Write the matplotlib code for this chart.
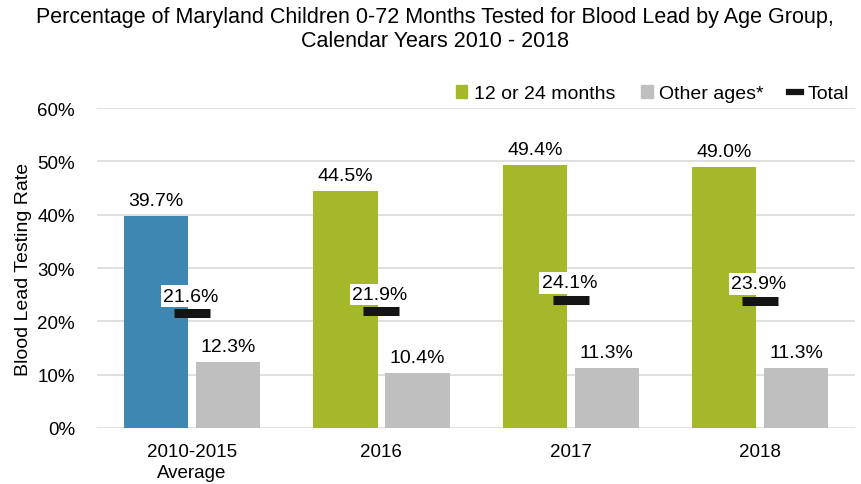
import numpy as np
import matplotlib.pyplot as plt
from matplotlib.lines import Line2D
from matplotlib.patches import Patch

plt.rcParams['font.family'] = ['Liberation Sans', 'DejaVu Sans']

# data
groups = ['2010-2015\nAverage', '2016', '2017', '2018']
target_ages = [39.7, 44.5, 49.4, 49.0]   # 12 or 24 months
other_ages = [12.3, 10.4, 11.3, 11.3]
total = [21.6, 21.9, 24.1, 23.9]

blue = '#3f87b3'
green = '#a5b82a'
gray = '#bfbfbf'

fig = plt.figure(figsize=(8.61, 4.85), dpi=100)
ax = fig.add_axes([0.113, 0.1155, 0.88, 0.6595])

x = np.arange(len(groups))
w = 0.34
off = 0.19
bar_colors = [blue] + [green] * (len(groups) - 1)

ax.bar(x - off, target_ages, w, color=bar_colors, zorder=2)
ax.bar(x + off, other_ages, w, color=gray, zorder=2)

for xi, v in zip(x, target_ages):
    ax.annotate(f'{v:.1f}%', (xi - off, v), xytext=(0, 5), textcoords='offset points',
                ha='center', va='bottom', fontsize=14)
for xi, v in zip(x, other_ages):
    ax.annotate(f'{v:.1f}%', (xi + off, v), xytext=(0, 5), textcoords='offset points',
                ha='center', va='bottom', fontsize=14)

# total markers: short thick dashes
ax.plot(x, total, linestyle='none', marker='_', markersize=26, markeredgewidth=6.5,
        color='#141414', zorder=6)
for xi, v in zip(x, total):
    ax.annotate(f'{v:.1f}%', (xi, v), xytext=(-1, 6), textcoords='offset points',
                ha='center', va='bottom', fontsize=14, zorder=5,
                bbox=dict(boxstyle='square,pad=0.12', fc='white', ec='none'))

ax.set_xlim(-0.5, len(groups) - 0.5)
ax.set_ylim(0, 60)
ax.set_yticks(np.arange(0, 61, 10))
ax.set_yticklabels([f'{t}%' for t in range(0, 61, 10)], fontsize=13.5)
ax.set_xticks(x)
ax.set_xticklabels(groups, fontsize=13.5, linespacing=1.3)
ax.tick_params(length=0, pad=11)
ax.tick_params(axis='y', pad=16)
ax.grid(axis='y', color='#d9d9d9', linewidth=1.2, zorder=0)
for s in ax.spines.values():
    s.set_visible(False)
ax.set_ylabel('Blood Lead Testing Rate', fontsize=14, labelpad=4)

fig.suptitle('Percentage of Maryland Children 0-72 Months Tested for Blood Lead by Age Group,\n'
             'Calendar Years 2010 - 2018', fontsize=15.5, x=0.505, y=0.985, linespacing=1.15)

handles = [Patch(color=green), Patch(color=gray),
           Line2D([], [], color='#141414', linewidth=4.5)]
ax.legend(handles, ['12 or 24 months', 'Other ages*', 'Total'], ncol=3, frameon=False,
          loc='lower right', bbox_to_anchor=(1.0, 1.0), fontsize=14,
          handlelength=0.6, handleheight=0.6, handletextpad=0.35, columnspacing=1.3,
          borderaxespad=0.05, borderpad=0.25)

fig.savefig('out.png', dpi=100)
